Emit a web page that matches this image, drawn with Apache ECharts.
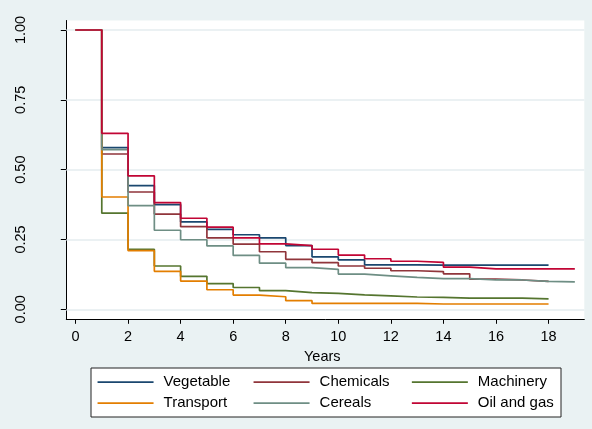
<!DOCTYPE html>
<html>
<head>
<meta charset="utf-8">
<script src="https://cdn.jsdelivr.net/npm/echarts@6/dist/echarts.min.js"></script>
<style>
html,body{margin:0;padding:0;background:#eaf2f3;}
#chart{width:592px;height:429px;}
</style>
</head>
<body>
<div id="chart"></div>
<script>
// ---- data (survival share at start of each year interval) ----
const years = [0,1,2,3,4,5,6,7,8,9,10,11,12,13,14,15,16,17,18,19];
const xTicks = [0,2,4,6,8,10,12,14,16,18];
const yTicks = [0,0.25,0.5,0.75,1];
const yTickLabels = ['0.00','0.25','0.50','0.75','1.00'];
const seriesNames = ['Vegetable','Chemicals','Machinery','Transport','Cereals','Oil and gas'];

const vegetable = [1, 0.579, 0.443, 0.375, 0.313, 0.286, 0.267, 0.256, 0.228, 0.188, 0.177, 0.159, 0.159, 0.158, 0.158, 0.158, 0.158, 0.158];
const chemicals = [1, 0.556, 0.420, 0.341, 0.296, 0.256, 0.233, 0.206, 0.179, 0.167, 0.155, 0.147, 0.138, 0.135, 0.127, 0.108, 0.105, 0.100];
const machinery = [1, 0.344, 0.215, 0.155, 0.118, 0.092, 0.078, 0.067, 0.060, 0.057, 0.052, 0.048, 0.044, 0.043, 0.040, 0.040, 0.040, 0.037];
const transport = [1, 0.402, 0.210, 0.136, 0.101, 0.070, 0.051, 0.045, 0.031, 0.021, 0.021, 0.021, 0.021, 0.019, 0.019, 0.019, 0.019, 0.019];
const cereals   = [1, 0.572, 0.371, 0.283, 0.249, 0.227, 0.193, 0.165, 0.149, 0.143, 0.126, 0.120, 0.114, 0.110, 0.110, 0.105, 0.105, 0.100, 0.098];
const oilGas    = [1, 0.630, 0.478, 0.382, 0.326, 0.294, 0.256, 0.234, 0.228, 0.215, 0.194, 0.181, 0.172, 0.168, 0.151, 0.145, 0.145, 0.145, 0.145];

const seriesValues = [vegetable, chemicals, machinery, transport, cereals, oilGas];
const colors = ['#1a476f','#90353b','#55752f','#e37e00','#6e8e84','#c10534'];

function stepData(vals){
  const pts = vals.map((v,i)=>[years[i], v]);
  pts.push([years[vals.length], vals[vals.length-1]]);
  return pts;
}

const FONT = 'Liberation Sans, Arial, sans-serif';
const chart = echarts.init(document.getElementById('chart'), null, {renderer:'canvas'});

const lineSeries = seriesNames.map((n,i)=>({
  name:n, type:'line', step:'end', data: stepData(seriesValues[i]),
  symbol:'none', showSymbol:false, silent:true, z:10,
  lineStyle:{color:colors[i], width:1.7}, itemStyle:{color:colors[i]}
}));

const legendPos = [
  [96.7, 374.7],[252.7, 374.7],[411, 374.7],
  [96.7, 395.7],[252.7, 395.7],[411, 395.7]
];
const legendOrder = ['Vegetable','Chemicals','Machinery','Transport','Cereals','Oil and gas'];
const legends = legendOrder.map((n,i)=>({
  data:[n], left:legendPos[i][0], top:legendPos[i][1], padding:0,
  orient:'horizontal', itemWidth:56, itemHeight:14, selectedMode:false,
  itemStyle:{opacity:0, borderWidth:0},
  lineStyle:{width:1.7},
  textStyle:{fontFamily:FONT, fontSize:15, color:'#000', padding:[0,0,0,5]}
}));

chart.setOption({
  animation:false,
  backgroundColor:'#eaf2f3',
  grid:{left:66.3, top:20.5, right:7.7, bottom:109.7, show:true, backgroundColor:'#ffffff', borderWidth:0},
  graphic:[{
    type:'rect', left:90.5, top:367.5, shape:{width:470, height:49},
    style:{fill:'#ffffff', stroke:'#222', lineWidth:1}, z:-1, silent:true
  }],
  legend: legends,
  xAxis:{
    type:'value', min:-0.35, max:19.36,
    name:'Years', nameLocation:'middle', nameGap:25,
    nameTextStyle:{fontFamily:FONT, fontSize:14.5, color:'#000', padding:[0,6,0,0]},
    axisLine:{onZero:false, lineStyle:{color:'#000', width:1}},
    axisTick:{show:true, length:4.5, customValues:xTicks, lineStyle:{color:'#000'}},
    axisLabel:{customValues:xTicks, margin:10, fontFamily:FONT, fontSize:14.5, color:'#000'},
    splitLine:{show:false}
  },
  yAxis:{
    type:'value', min:-0.0358, max:1.034,
    axisLine:{show:true, onZero:false, lineStyle:{color:'#000', width:1}},
    axisTick:{show:true, length:5.5, customValues:yTicks, lineStyle:{color:'#000'}},
    axisLabel:{customValues:yTicks, rotate:90, margin:38, fontFamily:FONT, fontSize:14.5, color:'#000',
      formatter:(v)=>{const i=yTicks.findIndex(t=>Math.abs(t-v)<1e-6); return i>=0?yTickLabels[i]:'';}},
    splitLine:{show:false}
  },
  series:[{
    name:'grid', type:'line', data:[], silent:true, z:1,
    markLine:{silent:true, z:1, symbol:['none','none'], label:{show:false},
      lineStyle:{color:'#e4edef', width:1.5, type:'solid'},
      data: yTicks.map(t=>({yAxis:t}))}
  }].concat(lineSeries)
});
</script>
</body>
</html>
